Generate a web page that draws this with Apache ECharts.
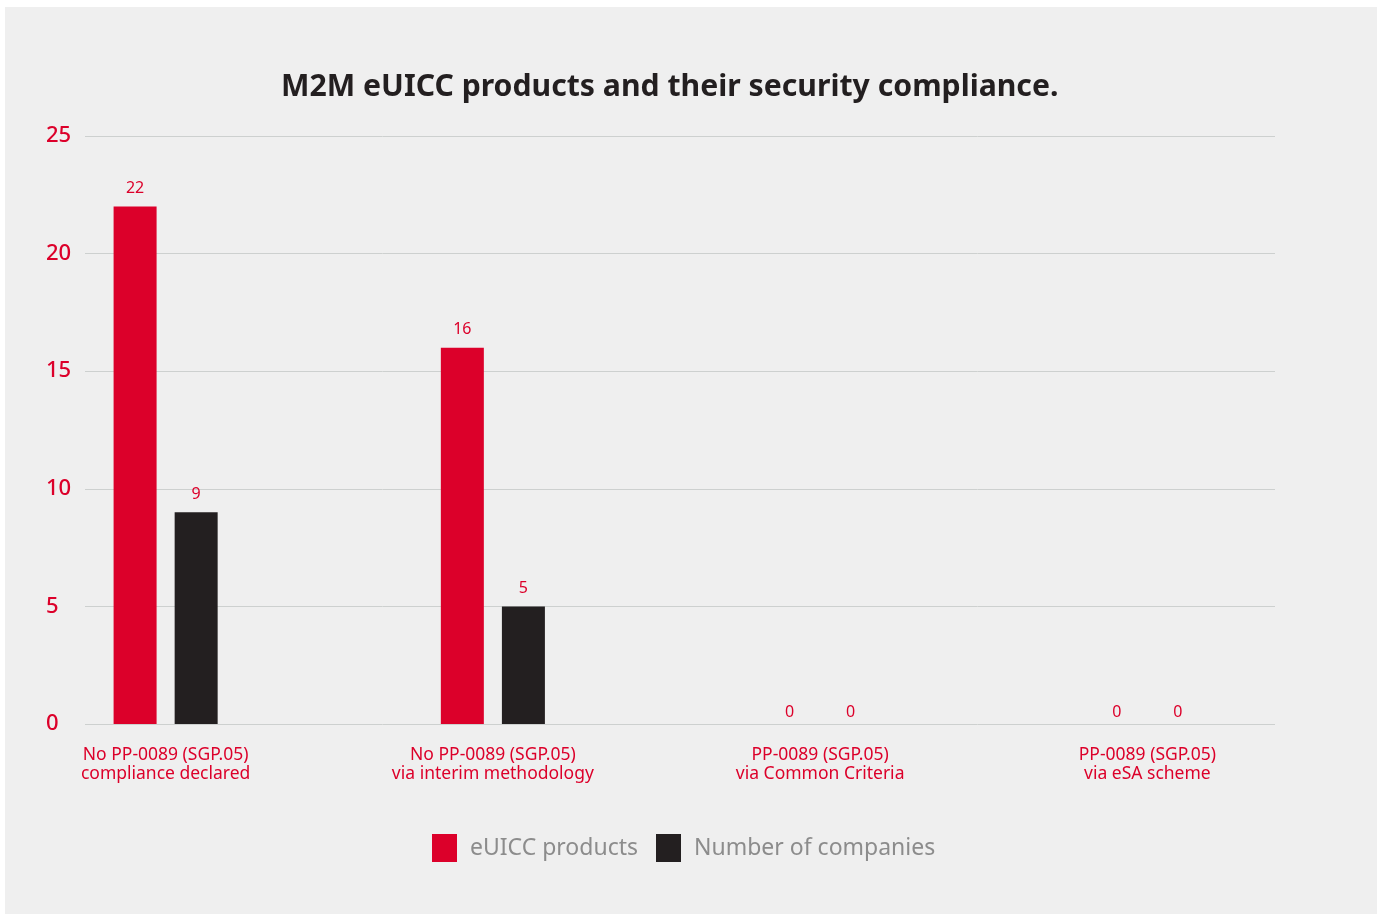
<!DOCTYPE html>
<html>
<head>
<meta charset="utf-8">
<title>M2M eUICC products</title>
<script src="https://cdn.jsdelivr.net/npm/echarts@6/dist/echarts.min.js"></script>
<style>
  html, body { margin: 0; padding: 0; background: #ffffff; }
  .panel {
    position: absolute;
    left: 5px; top: 7px; width: 1372px; height: 907px;
    background: #efefef;
  }
  #chart { position: absolute; left: 0; top: 0; width: 1381px; height: 916px; }
</style>
</head>
<body>
<div class="panel"></div>
<div id="chart"></div>
<script>
// data
const categories = [
  'No PP-0089 (SGP.05)\ncompliance declared',
  'No PP-0089 (SGP.05)\nvia interim methodology',
  'PP-0089 (SGP.05)\nvia Common Criteria',
  'PP-0089 (SGP.05)\nvia eSA scheme'
]
const products = [22, 16, 0, 0]
const companies = [9, 5, 0, 0]
const yTicks = { min: 0, max: 25, interval: 5 }

const RED = '#dc002a'
const DARK = '#231f20'
const FONT = '"Noto Sans", Arial, sans-serif'

// zero-height bars get their label a bit closer to the baseline
function withLabels(values) {
  return values.map(v => v === 0 ? { value: v, label: { distance: 4 } } : v)
}

const chart = echarts.init(document.getElementById('chart'))
chart.setOption({
  backgroundColor: 'transparent',
  textStyle: { fontFamily: FONT },
  title: {
    text: 'M2M eUICC products and their security compliance.',
    left: 281,
    top: 72,
    padding: 0,
    textStyle: { fontSize: 30.2, fontWeight: 'bold', color: '#231f20', fontFamily: FONT }
  },
  legend: {
    top: 834,
    left: 432,
    padding: 0,
    itemWidth: 25,
    itemHeight: 28,
    itemGap: 18,
    icon: 'rect',
    textStyle: { fontSize: 23, color: '#8c8c8c', padding: [0, 0, 0, 8] },
    data: ['eUICC products', 'Number of companies']
  },
  grid: [
    // grid for the gridlines / y labels
    { left: 85, right: 1381 - 1275, top: 136, bottom: 916 - 724 },
    // grid for the bars, slightly wider so the bands match the picture
    { left: 2, width: 1309, top: 136, bottom: 916 - 724 }
  ],
  xAxis: [
    { gridIndex: 0, type: 'value', show: false },
    {
      gridIndex: 1,
      type: 'category',
      data: categories,
      axisLine: { show: false },
      axisTick: { show: false },
      axisLabel: { color: RED, fontSize: 17.5, lineHeight: 19, margin: 22 }
    }
  ],
  yAxis: [
    {
      gridIndex: 0,
      type: 'value',
      min: yTicks.min,
      max: yTicks.max,
      interval: yTicks.interval,
      axisLine: { show: false },
      axisTick: { show: false },
      axisLabel: { color: RED, fontSize: 22, fontWeight: 500, align: 'left', margin: 39, padding: [4, 0, 0, 0] },
      splitLine: { lineStyle: { color: '#cdd0cf', width: 1 } }
    },
    {
      gridIndex: 1,
      type: 'value',
      min: yTicks.min,
      max: yTicks.max,
      show: false
    }
  ],
  series: [
    {
      name: 'eUICC products',
      type: 'bar',
      xAxisIndex: 1,
      yAxisIndex: 1,
      barWidth: 43,
      barGap: '42%',
      itemStyle: { color: RED },
      label: { show: true, position: 'top', distance: 10, color: RED, fontSize: 16 },
      data: withLabels(products)
    },
    {
      name: 'Number of companies',
      type: 'bar',
      xAxisIndex: 1,
      yAxisIndex: 1,
      barWidth: 43,
      itemStyle: { color: DARK },
      label: { show: true, position: 'top', distance: 10, color: RED, fontSize: 16 },
      data: withLabels(companies)
    }
  ]
})
</script>
</body>
</html>
